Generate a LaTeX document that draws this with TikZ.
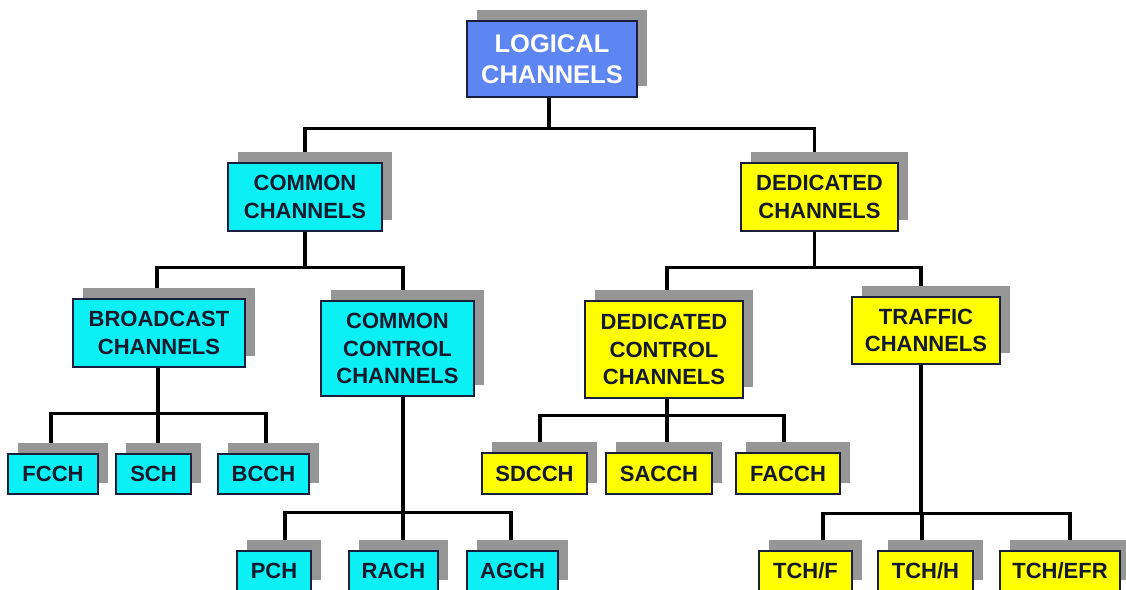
\documentclass[tikz,border=0pt]{standalone}
\usepackage{fontspec}
\setmainfont{Liberation Sans}
\usetikzlibrary{shadows,backgrounds}
\definecolor{cyanfill}{RGB}{10,240,245}
\definecolor{yellowfill}{RGB}{255,255,0}
\definecolor{bluefill}{RGB}{94,134,242}
\definecolor{shadowgray}{RGB}{150,150,150}
\definecolor{borderc}{RGB}{25,30,60}
\definecolor{textc}{RGB}{20,25,45}
\tikzset{
  chbox/.style={draw=borderc, line width=1.4pt, align=center, inner sep=0pt,
    text=textc, font=\fontsize{22}{27.5}\selectfont\bfseries,
    general shadow={fill=shadowgray, draw=none, shadow xshift=10pt, shadow yshift=11pt}},
  cyanbox/.style={chbox, fill=cyanfill},
  yellowbox/.style={chbox, fill=yellowfill},
  bluebox/.style={chbox, fill=bluefill, text=white, font=\fontsize{25.5}{31}\selectfont\bfseries},
  conn/.style={draw=black, line width=3.2pt},
}
\begin{document}
\begin{tikzpicture}[x=1pt,y=-1pt]
\useasboundingbox (0,0) rectangle (1126,589);
\clip (0,0) rectangle (1126,589);
% nodes
\node[bluebox, minimum width=170pt, minimum height=76pt] (lc) at (552,59) {LOGICAL\\CHANNELS};
\node[cyanbox, minimum width=154pt, minimum height=68pt] (cc) at (305,197) {COMMON\\CHANNELS};
\node[yellowbox, minimum width=157pt, minimum height=68pt] (dc) at (819.5,197) {DEDICATED\\CHANNELS};
\node[cyanbox, minimum width=172pt, minimum height=68pt] (bc) at (159,333) {BROADCAST\\CHANNELS};
\node[cyanbox, minimum width=153pt, minimum height=95pt] (ccc) at (397.5,348.5) {COMMON\\CONTROL\\CHANNELS};
\node[yellowbox, minimum width=158pt, minimum height=97pt] (dcc) at (664,349.5) {DEDICATED\\CONTROL\\CHANNELS};
\node[yellowbox, minimum width=148pt, minimum height=67pt] (tc) at (926,330.5) {TRAFFIC\\CHANNELS};
\node[cyanbox, minimum width=90pt, minimum height=40pt] (fcch) at (53,474) {FCCH};
\node[cyanbox, minimum width=75pt, minimum height=40pt] (sch) at (153.5,474) {SCH};
\node[cyanbox, minimum width=91pt, minimum height=40pt] (bcch) at (263.5,474) {BCCH};
\node[cyanbox, minimum width=74pt, minimum height=40pt] (pch) at (274,571) {PCH};
\node[cyanbox, minimum width=89pt, minimum height=40pt] (rach) at (393.5,571) {RACH};
\node[cyanbox, minimum width=91pt, minimum height=40pt] (agch) at (512.5,571) {AGCH};
\node[yellowbox, minimum width=105pt, minimum height=41pt] (sdcch) at (534.5,473.5) {SDCCH};
\node[yellowbox, minimum width=106pt, minimum height=41pt] (sacch) at (659,473.5) {SACCH};
\node[yellowbox, minimum width=104pt, minimum height=41pt] (facch) at (788,473.5) {FACCH};
\node[yellowbox, minimum width=93pt, minimum height=40pt] (tchf) at (805.5,571) {TCH/F};
\node[yellowbox, minimum width=95pt, minimum height=40pt] (tchh) at (925.5,571) {TCH/H};
\node[yellowbox, minimum width=120pt, minimum height=40pt] (tchefr) at (1060,571) {TCH/EFR};
% connectors
\begin{pgfonlayer}{background}
\draw[conn] ([xshift=-3pt]lc.south) -- ++(0,31) coordinate (j1);
\draw[conn] (j1) -| (cc.north);
\draw[conn] (j1) -| ([xshift=-5pt]dc.north);
\draw[conn] (cc.south) -- ++(0,36) coordinate (j2);
\draw[conn] (j2) -| ([xshift=-2pt]bc.north);
\draw[conn] (j2) -| ([xshift=5.5pt]ccc.north);
\draw[conn] ([xshift=-5pt]dc.south) -- ++(0,36) coordinate (j3);
\draw[conn] (j3) -| ([xshift=3pt]dcc.north);
\draw[conn] (j3) -| ([xshift=-5pt]tc.north);
\draw[conn] ([xshift=-1pt]bc.south) -- ++(0,46) coordinate (j4);
\draw[conn] (j4) -| ([xshift=-2pt]fcch.north);
\draw[conn] (j4) -| ([xshift=4.5pt]sch.north);
\draw[conn] (j4) -| ([xshift=2.5pt]bcch.north);
\draw[conn] ([xshift=5.5pt]ccc.south) -- ++(0,116) coordinate (j5);
\draw[conn] (j5) -| ([xshift=11pt]pch.north);
\draw[conn] (j5) -| ([xshift=9.5pt]rach.north);
\draw[conn] (j5) -| ([xshift=-1.5pt]agch.north);
\draw[conn] ([xshift=3pt]dcc.south) -- ++(0,17) coordinate (j6);
\draw[conn] (j6) -| ([xshift=5.5pt]sdcch.north);
\draw[conn] (j6) -| ([xshift=8pt]sacch.north);
\draw[conn] (j6) -| ([xshift=-4pt]facch.north);
\draw[conn] ([xshift=-5pt]tc.south) -- ++(0,149) coordinate (j7);
\draw[conn] (j7) -| ([xshift=17.5pt]tchf.north);
\draw[conn] (j7) -| ([xshift=-3.5pt]tchh.north);
\draw[conn] (j7) -| ([xshift=10pt]tchefr.north);
\end{pgfonlayer}
\end{tikzpicture}
\end{document}
